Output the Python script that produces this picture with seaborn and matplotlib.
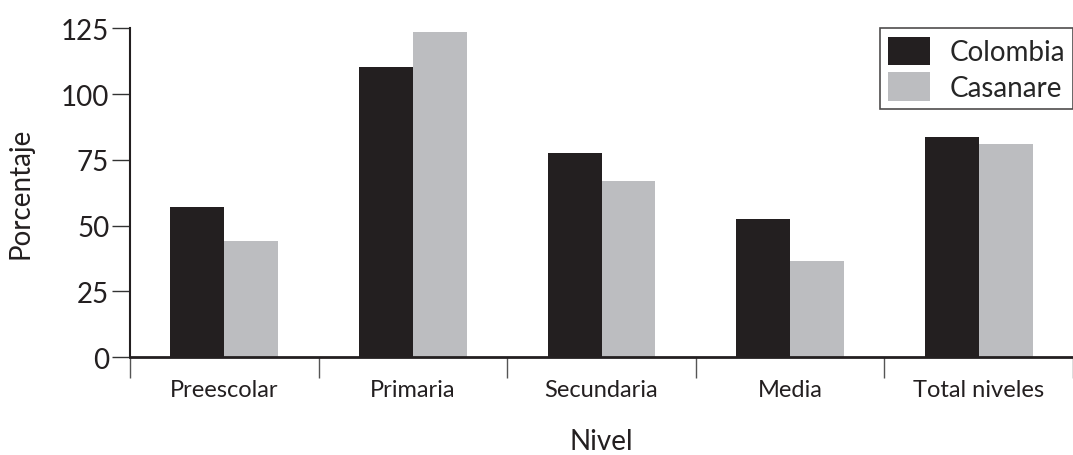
import pandas as pd
import matplotlib.pyplot as plt
import seaborn as sns

niveles = ["Preescolar", "Primaria", "Secundaria", "Media", "Total niveles"]
colombia = [57.0, 110.2, 77.5, 52.5, 83.7]
casanare = [44.1, 123.6, 67.0, 36.5, 81.0]
series = ["Colombia", "Casanare"]
yticks = [0, 25, 50, 75, 100, 125]

df = pd.DataFrame({
    "Nivel": niveles * 2,
    "Porcentaje": colombia + casanare,
    "Serie": [series[0]] * len(niveles) + [series[1]] * len(niveles),
})

sns.set_style("white")
plt.rcParams["font.family"] = ["Lato", "DejaVu Sans"]

fig = plt.figure(figsize=(10.73, 4.56), dpi=100)
ax = fig.add_axes([0.1212, 0.2149, 0.8788, 0.7208])

sns.barplot(data=df, x="Nivel", y="Porcentaje", hue="Serie", ax=ax,
            palette=["#231f20", "#bcbdc0"], width=0.572, saturation=1,
            linewidth=0)

ax.set_ylim(0, 125)
ax.set_xlim(-0.5, len(niveles) - 0.5)
ax.set_yticks(yticks)
ax.tick_params(axis="y", labelsize=20, length=13, width=1, color="#333333",
               left=True, pad=2, labelcolor="#231f20")

# category boundaries as major ticks, labels as minor ticks
ax.set_xticks([i - 0.5 for i in range(len(niveles) + 1)])
ax.set_xticklabels([])
ax.set_xticks(range(len(niveles)), minor=True)
ax.set_xticklabels(niveles, minor=True)
ax.tick_params(axis="x", which="major", length=15, width=1, color="#555555",
               bottom=True, direction="out")
ax.tick_params(axis="x", which="minor", length=0, labelsize=17, pad=16,
               labelcolor="#231f20")

for side in ["top", "right"]:
    ax.spines[side].set_visible(False)
ax.spines["left"].set_linewidth(1.5)
ax.spines["left"].set_color("#231f20")
ax.spines["bottom"].set_linewidth(2)
ax.spines["bottom"].set_color("#231f20")

ax.set_ylabel("Porcentaje", fontsize=20, labelpad=20, color="#231f20")
ax.set_xlabel("Nivel", fontsize=20, labelpad=20, color="#231f20")

leg = ax.legend(loc="upper right", bbox_to_anchor=(1.0, 1.0), borderaxespad=0,
                fontsize=20, frameon=True, fancybox=False, title=None,
                handlelength=1.5, handleheight=1.2, handletextpad=0.7,
                borderpad=0.3, labelspacing=0.25)
leg.get_frame().set_edgecolor("#231f20")
leg.get_frame().set_linewidth(1.2)

fig.savefig("out.png", dpi=100)
plt.close(fig)
